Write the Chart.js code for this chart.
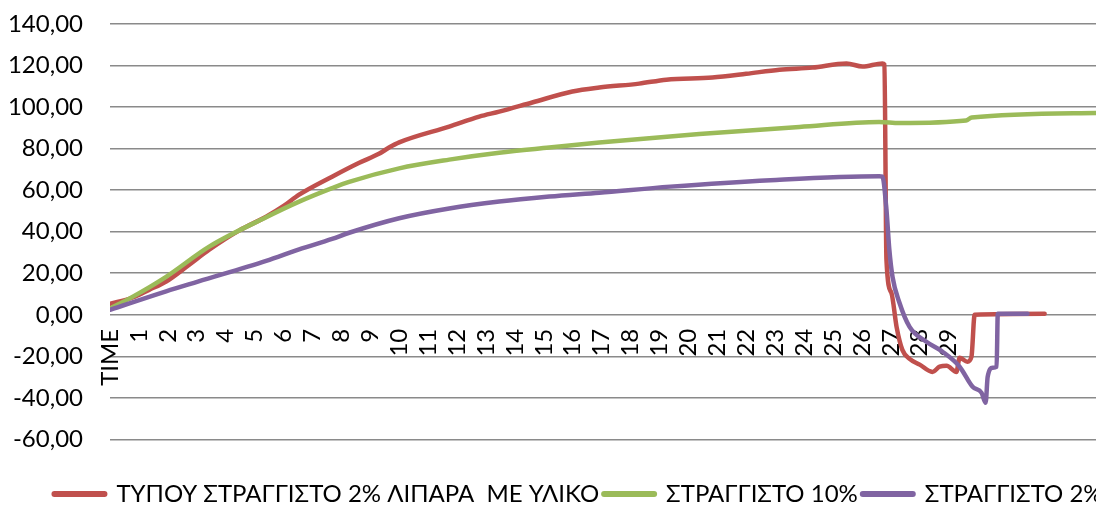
<!DOCTYPE html>
<html><head><meta charset="utf-8">
<script src="https://cdn.jsdelivr.net/npm/chart.js@4.4.0/dist/chart.umd.min.js"></script>
<style>
html,body{margin:0;padding:0;overflow:hidden;background:#fff;width:1096px;height:506px}
#wrap{position:absolute;left:0;top:0;width:1147px;height:516px}
</style></head><body>
<div id="wrap"><canvas id="c"></canvas></div>
<script>
const xLabels = ['TIME','1','2','3','4','5','6','7','8','9','10','11','12','13','14','15','16','17','18','19','20','21','22','23','24','25','26','27','28','29'];
const seriesNames = ['ΤΥΠΟΥ ΣΤΡΑΓΓΙΣΤΟ 2% ΛΙΠΑΡΑ  ΜΕ ΥΛΙΚΟ', 'ΣΤΡΑΓΓΙΣΤΟ 10%', 'ΣΤΡΑΓΓΙΣΤΟ 2%'];
const yTicks = [-60, -40, -20, 0, 20, 40, 60, 80, 100, 120, 140];

const redX = [0, 0.76, 1.35, 1.94, 2.73, 3.43, 4.46, 5.40, 6.02, 6.54, 7.68, 8.62, 9.30, 9.65, 10.0, 11.73, 12.77, 13.46, 14.6, 15.99, 16.92, 18.3, 19.24, 20.83, 22.0, 23.15, 24.29, 25.47, 26.02, 26.71, 26.78, 26.85, 27.02, 27.2, 27.4, 27.65, 28.0, 28.44, 28.69, 28.93, 29.27, 29.38, 29.65, 29.79, 29.9, 32.32];
const redY = [5.3, 8.2, 12, 16, 24, 31.3, 40.5, 47.2, 52.5, 57.8, 66.5, 73.2, 77.5, 80.5, 83, 90.6, 95.4, 97.8, 102.2, 107.5, 109.4, 111.3, 113.2, 114.2, 116, 118, 119, 121, 119.5, 121, 120.5, 26.5, 10.6, -5.8, -16.9, -21.2, -24, -27.5, -25, -24.6, -27.5, -20.7, -22.6, -20.2, 0, 0.5];

const greenX = [0, 0.76, 1.94, 3.43, 5.4, 6.54, 7.68, 8.27, 10.0, 11.73, 13.46, 15.19, 16.92, 20.38, 23.84, 26.6, 27.3, 29.6, 29.8, 34.1];
const greenY = [3, 8.5, 18.3, 32.8, 47, 54.5, 61, 64, 70.5, 74.7, 78, 80.5, 82.9, 87, 90.4, 92.8, 92.3, 93.5, 95, 97.2];

const purpleX = [0, 1.94, 3.04, 5.4, 6.54, 7.68, 8.27, 10.0, 11.73, 13.46, 15.19, 16.92, 19.38, 22.84, 26.6, 26.71, 26.85, 26.95, 27.06, 27.3, 27.65, 28.23, 28.79, 29.38, 29.83, 30.14, 30.28, 30.35, 30.52, 30.66, 30.7, 31.73];
const purpleY = [2.4, 11.3, 16, 26, 31.5, 36.5, 39.5, 46.5, 51.2, 54.5, 56.9, 58.8, 61.7, 64.8, 66.7, 66.5, 50.6, 31.3, 18.3, 5.8, -5.8, -13, -17.8, -25, -34.7, -37.6, -42.4, -29.9, -25.5, -25, 0.5, 0.5];

const colors = ['#C0504D', '#9BBB59', '#8064A2'];
const FONT = 'Lato, "Open Sans", "Noto Sans", sans-serif';

function pts(xs, ys) { return xs.map((x, i) => ({x: x, y: ys[i]})); }

const datasets = [
  {label: seriesNames[0], data: pts(redX, redY), borderColor: colors[0], backgroundColor: colors[0], order: 3},
  {label: seriesNames[1], data: pts(greenX, greenY), borderColor: colors[1], backgroundColor: colors[1], order: 2},
  {label: seriesNames[2], data: pts(purpleX, purpleY), borderColor: colors[2], backgroundColor: colors[2], order: 1}
].map(d => Object.assign(d, {borderWidth: 4.5, pointRadius: 0, tension: 0, cubicInterpolationMode: 'monotone', borderCapStyle: 'round', borderJoinStyle: 'round'}));

new Chart(document.getElementById('c'), {
  type: 'line',
  data: {datasets: datasets},
  options: {
    responsive: true,
    maintainAspectRatio: false,
    animation: false,
    layout: {padding: {left: 10, right: 0, top: 0, bottom: 0}},
    plugins: {
      tooltip: {enabled: false},
      legend: {
        position: 'bottom',
        title: {display: true, text: '', font: {size: 10, lineHeight: 1}, padding: {top: 27.6, bottom: 0}},
        labels: {
          color: '#000',
          font: {family: FONT, size: 24},
          usePointStyle: true,
          pointStyleWidth: 50,
          boxHeight: 6,
          padding: 5,
          generateLabels(chart) {
            const items = Chart.defaults.plugins.legend.labels.generateLabels(chart);
            items.forEach(it => { it.pointStyle = 'line'; it.lineWidth = 6; it.lineCap = 'round'; });
            return items.sort((a, b) => a.datasetIndex - b.datasetIndex);
          }
        }
      }
    },
    scales: {
      x: {
        type: 'linear',
        position: {y: 0},
        min: 0,
        max: 35.86,
        afterBuildTicks(scale) { scale.ticks = xLabels.map((_, i) => ({value: i})); },
        grid: {display: false, drawTicks: false},
        border: {display: false},
        ticks: {
          autoSkip: false,
          minRotation: 90,
          maxRotation: 90,
          padding: 14,
          color: '#000',
          font: {family: FONT, size: 24},
          callback: (v) => xLabels[v] !== undefined ? xLabels[v] : ''
        }
      },
      y: {
        min: -60,
        max: 140,
        afterBuildTicks(scale) { scale.ticks = yTicks.map(v => ({value: v})); },
        afterFit(scale) { scale.width = 100; },
        grid: {color: '#8a8a8a', lineWidth: 1.5, drawTicks: true, tickLength: 17.4, tickColor: 'rgba(0,0,0,0)'},
        border: {display: false},
        ticks: {
          padding: 9.6,
          color: '#000',
          font: {family: FONT, size: 24},
          callback: (v) => v.toFixed(2).replace('.', ',')
        }
      }
    }
  }
});
</script>
</body></html>
